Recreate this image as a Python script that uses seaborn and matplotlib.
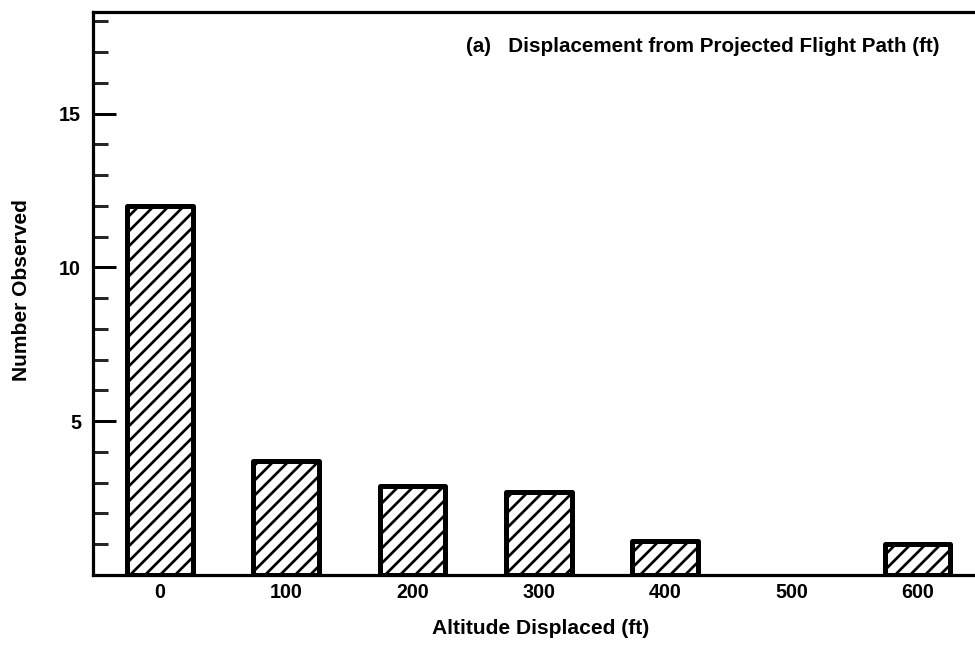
import matplotlib
matplotlib.use("Agg")
import matplotlib.pyplot as plt
import seaborn as sns
import pandas as pd
from matplotlib.ticker import MultipleLocator

# Data
altitudes = ["0", "100", "200", "300", "400", "500", "600"]
observed = [12.0, 3.7, 2.9, 2.7, 1.1, 0.0, 1.0]

title_text = "(a)   Displacement from Projected Flight Path (ft)"
x_label = "Altitude Displaced (ft)"
y_label = "Number Observed"

DPI = 135
W, H = 975, 646


def pt(px):
    return px * 72.0 / DPI


sns.set_theme(style="white")
plt.rcParams["font.family"] = ["Liberation Sans", "DejaVu Sans"]
plt.rcParams["font.weight"] = "bold"
plt.rcParams["hatch.linewidth"] = pt(2.7)
plt.rcParams["hatch.color"] = "black"

fig = plt.figure(figsize=(W / DPI, H / DPI), dpi=DPI)
ax = fig.add_axes([93 / W, 1 - 575 / H, 1 - 93 / W + 0.002, (575 - 12) / H])

df = pd.DataFrame({"alt": altitudes, "n": observed})
sns.barplot(data=df, x="alt", y="n", order=altitudes, color="white",
            edgecolor="black", linewidth=pt(5), hatch="///", width=0.52,
            saturation=1, ax=ax)
for p in ax.patches:
    p.set_facecolor("white")
    p.set_joinstyle("round")
    if p.get_height() == 0:
        p.set_linewidth(0)

ax.set_xlim(-0.53, 6.47)
ax.set_ylim(0, 18.3)

ax.yaxis.set_minor_locator(MultipleLocator(1))
ax.set_yticks([5, 10, 15])
ax.tick_params(axis="y", which="major", direction="in", length=pt(23), width=pt(3),
               left=True, labelsize=pt(19.8), pad=pt(12), colors="black")
ax.tick_params(axis="y", which="minor", direction="in", length=pt(14.5), width=pt(3),
               left=True)
ax.tick_params(axis="x", length=0, labelsize=pt(19.8), pad=pt(8), colors="black")
for lbl in ax.get_xticklabels() + ax.get_yticklabels():
    lbl.set_fontweight("bold")

for side in ["left", "bottom", "top"]:
    ax.spines[side].set_visible(True)
    ax.spines[side].set_linewidth(pt(3.2))
    ax.spines[side].set_color("black")
ax.spines["right"].set_visible(False)

ax.set_xlabel(x_label, fontsize=pt(21), fontweight="bold", color="black")
ax.xaxis.set_label_coords((540 - 93) / 882, (575 - 619) / 563)
ax.set_ylabel(y_label, fontsize=pt(21), fontweight="bold", color="black")
ax.yaxis.set_label_coords((31 - 93) / 882, 0.506)

fig.text(940 / W, 1 - 47 / H, title_text, ha="right", va="center",
         fontsize=pt(20.6), fontweight="bold", color="black")

fig.savefig("out.png", dpi=DPI, facecolor="white")
